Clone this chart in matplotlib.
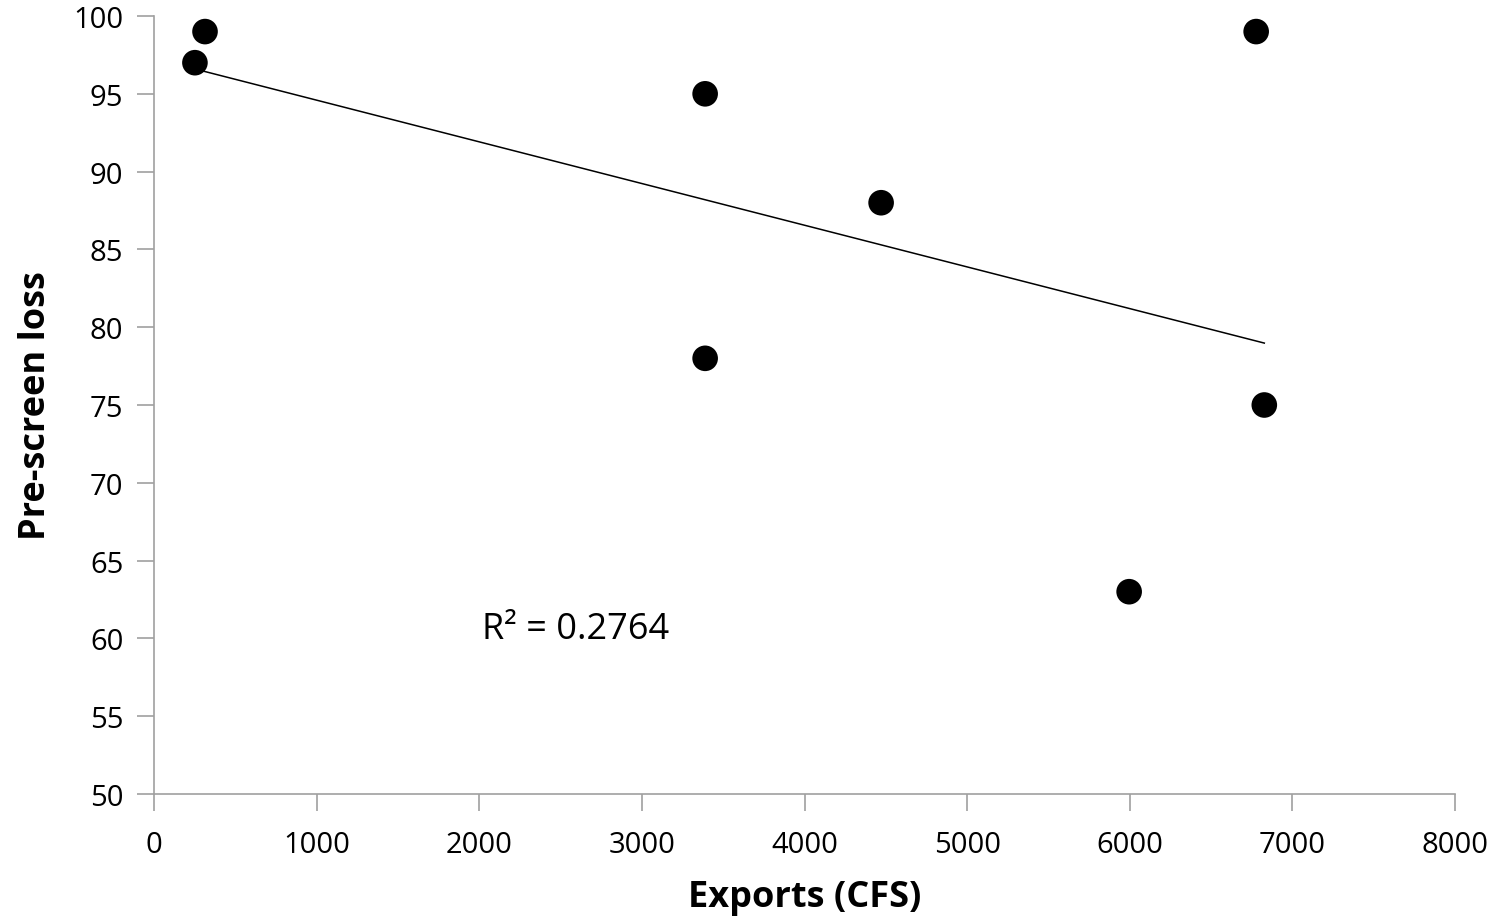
import numpy as np
import matplotlib
matplotlib.use("Agg")
import matplotlib.pyplot as plt

plt.rcParams['font.family'] = ['Open Sans', 'DejaVu Sans']

exports = [314, 252, 3389, 3389, 4471, 6777, 6827, 5996]
loss = [99, 97, 95, 78, 88, 99, 75, 63]
x_ticks = [0, 1000, 2000, 3000, 4000, 5000, 6000, 7000, 8000]
y_ticks = [50, 55, 60, 65, 70, 75, 80, 85, 90, 95, 100]

fig = plt.figure(figsize=(14.99, 9.2), dpi=100)
ax = fig.add_axes([0.1027, 0.1359, 0.868, 0.8456])

x = np.array(exports, dtype=float)
y = np.array(loss, dtype=float)
slope, intercept = np.polyfit(x, y, 1)
xs = np.array([x.min(), x.max()])
ax.plot(xs, slope * xs + intercept, color='black', lw=1.1, zorder=2)
ax.scatter(x, y, s=340, color='black', zorder=3, edgecolors='none')

r2 = np.corrcoef(x, y)[0, 1] ** 2
ax.text(2020, 60.6, f"R² = {r2:.4f}", fontsize=26, ha='left', va='center')

ax.set_xlim(0, 8000)
ax.set_ylim(50, 100)
ax.set_xticks(x_ticks)
ax.set_yticks(y_ticks)
ax.tick_params(labelsize=21, colors='#A0A0A0', labelcolor='black', length=12, width=1.2)
ax.tick_params(axis='x', pad=14)
ax.tick_params(axis='y', pad=10)
for s in ['top', 'right']:
    ax.spines[s].set_visible(False)
for s in ['left', 'bottom']:
    ax.spines[s].set_color('#A0A0A0')
    ax.spines[s].set_linewidth(1.2)

ax.set_xlabel("Exports (CFS)", fontsize=26, fontweight='bold', labelpad=14)
ax.set_ylabel("Pre-screen loss", fontsize=26, fontweight='bold', labelpad=14)

fig.savefig("out.png", dpi=100)
